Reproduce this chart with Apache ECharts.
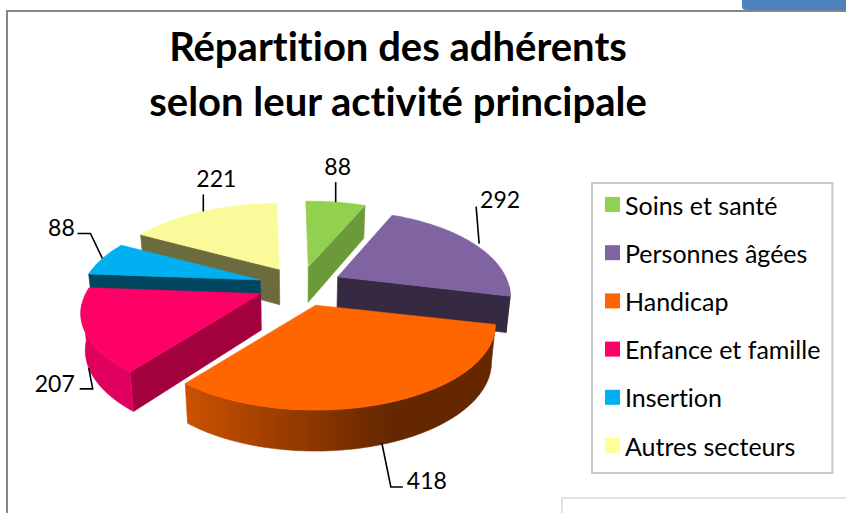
<!DOCTYPE html>
<html>
<head>
<meta charset="utf-8">
<style>
  html, body { margin: 0; padding: 0; background: #fff; }
  #myChart { width: 846px; height: 513px; }
  #myChart text { font-variant-ligatures: none; }
</style>
<script src="https://cdn.jsdelivr.net/npm/echarts@6/dist/echarts.min.js"></script>
</head>
<body>
<div id="myChart"></div>
<script>
  var categories = ['Soins et santé', 'Personnes âgées', 'Handicap', 'Enfance et famille', 'Insertion', 'Autres secteurs'];
  var values = [88, 292, 418, 207, 88, 221];

  // couleurs du dessus, de la coupe et du bord arrondi (gauche, droite)
  var topColors = ['#92d050', '#8064a2', '#ff6600', '#ff0066', '#00b0f0', '#fbfa9a'];
  var legendColors = ['#92d050', '#8064a2', '#ff6600', '#ff0066', '#00b0f0', '#ffff99'];
  var cutColors = ['#6b9a3a', '#352a42', '#652700', '#a3003e', '#00465f', '#6b6b3d'];
  var rimColors = [['#6b9a3a', '#6b9a3a'], ['#352a42', '#352a42'], ['#c95000', '#652700'], ['#e2005f', '#c80050'], ['#00465f', '#00465f'], ['#6b6b3d', '#6b6b3d']];

  // projection de la "3D"
  var CX = 300.5, CY = 285.5, RX = 175, RY = 81, PERSP = 0.228, EXPLODE = 0.244, ROT = -1 * Math.PI / 180;
  // la part du fond a droite parait un peu plus etroite
  var widthScale = [1, 0.96, 1, 1, 1, 1];

  // traits de rappel : decalage du depart, points relatifs au bord, decalage du texte
  var leaders = [
    { from: 0, pts: [[0, -20]], text: [2, -16] },
    { from: 0, pts: [[-3, -37]], text: [24, -8] },
    { from: -7, pts: [[9, 44], [21, 44]], text: [24, -7] },
    { from: 0, pts: [[4, 21], [-9, 21]], text: [-25, -6] },
    { from: 0, pts: [[-12, -25], [-25, -25]], text: [-16, -7] },
    { from: 0, pts: [[0, -17]], text: [13, -16] }
  ];

  var total = values.reduce(function (a, b) { return a + b; }, 0);
  var starts = [];
  values.reduce(function (acc, v, i) { starts[i] = acc; return acc + v; }, 0);

  function angle(v) { return v / total * Math.PI * 2 + ROT; }

  function proj(t, scale) {
    var p = 1 / (1 + PERSP * scale * Math.cos(t));
    return [RX * scale * Math.sin(t) * p, -RY * scale * Math.cos(t) * p];
  }

  function lower(pt) {
    return [CX + (pt[0] - CX) * 0.98, pt[1] + 36 + (pt[1] - CY) * 0.04];
  }

  function arcPoints(apex, a0, a1, sx) {
    var pts = [], n = Math.max(2, Math.ceil((a1 - a0) / 0.02));
    for (var i = 0; i <= n; i++) {
      var q = proj(a0 + (a1 - a0) * i / n, 1);
      pts.push([apex[0] + q[0] * sx, apex[1] + q[1]]);
    }
    return pts;
  }

  function poly(points, fill, stroke) {
    return { type: 'polygon', shape: { points: points }, style: { fill: fill, stroke: stroke || fill, lineWidth: 0.6 } };
  }

  // la coupe n'est visible que si le dessus de la part passe au-dessus de l'arete
  function cutVisible(apex, p, q) {
    var dx = p[0] - apex[0];
    if (Math.abs(dx) < 4) return false;
    return q[1] < apex[1] + (p[1] - apex[1]) * (q[0] - apex[0]) / dx;
  }

  function renderSlice(i, api) {
    var a0 = angle(starts[i]), a1 = angle(starts[i] + api.value(0)), mid = (a0 + a1) / 2;
    var sx = widthScale[i];
    var off = proj(mid, EXPLODE);
    var apex = [CX + off[0], CY + off[1]];
    var arc = arcPoints(apex, a0, a1, sx);
    var pStart = arc[0], pEnd = arc[arc.length - 1], q = arc[Math.floor(arc.length / 2)];
    var children = [];

    [pStart, pEnd].forEach(function (p) {
      if (cutVisible(apex, p, q)) {
        children.push(poly([apex, p, lower(p), lower(apex)], cutColors[i]));
      }
    });

    var r0 = Math.max(a0, 97 * Math.PI / 180), r1 = Math.min(a1, 263 * Math.PI / 180);
    if (r1 > r0) {
      var rimTop = arcPoints(apex, r0, r1, sx);
      var rimFill = new echarts.graphic.LinearGradient(190, 0, 390, 0, [
        { offset: 0, color: rimColors[i][0] },
        { offset: 1, color: rimColors[i][1] }
      ], true);
      children.push(poly(rimTop.concat(rimTop.map(lower).reverse()), rimFill));
    }

    children.push(poly([apex].concat(arc), topColors[i]));

    // trait de rappel et valeur
    var m = proj(mid, 1);
    var edge = [apex[0] + m[0] + leaders[i].from, apex[1] + m[1]];
    if (Math.cos(mid) < 0) edge = lower(edge);
    var line = [edge].concat(leaders[i].pts.map(function (d) { return [edge[0] + d[0], edge[1] + d[1]]; }));
    var end = line[line.length - 1];
    children.push({ type: 'polyline', shape: { points: line }, style: { fill: null, stroke: '#000', lineWidth: 1.6 } });
    children.push({
      type: 'text',
      x: end[0] + leaders[i].text[0],
      y: end[1] + leaders[i].text[1],
      style: { text: String(api.value(0)), fill: '#000', font: '23px Lato', align: 'center', verticalAlign: 'middle' }
    });
    return { type: 'group', children: children };
  }

  // ordre de dessin : du fond vers l'avant
  function depthRank(i) {
    var mid = angle(starts[i] + values[i] / 2), c = Math.cos(mid);
    return values.filter(function (v, j) { return Math.cos(angle(starts[j] + v / 2)) > c; }).length;
  }

  var myChart = echarts.init(document.getElementById('myChart'), null, { renderer: 'svg' });

  var option = {
    animation: false,
    backgroundColor: '#fff',
    title: {
      text: 'Répartition des adhérents\nselon leur activité principale',
      left: 393,
      top: 13,
      textAlign: 'center',
      textStyle: { fontFamily: 'Lato', fontWeight: 'bold', fontSize: 40, lineHeight: 55, color: '#000' }
    },
    legend: {
      orient: 'vertical',
      left: 592,
      top: 183,
      padding: [9, 12, 15, 13],
      itemWidth: 15,
      itemHeight: 15,
      itemGap: 23.2,
      icon: 'rect',
      borderColor: '#c8c8c8',
      borderWidth: 2,
      backgroundColor: '#fff',
      selectedMode: false,
      data: categories,
      textStyle: { fontFamily: 'Lato', fontSize: 25, lineHeight: 24, color: '#000' }
    },
    graphic: [
      { type: 'rect', shape: { x: 742, y: -6, width: 120, height: 16, r: 4 }, style: { fill: '#4f81bd' }, silent: true },
      { type: 'polyline', shape: { points: [[7, 513], [7, 11], [846, 11]] }, style: { fill: null, stroke: '#868686', lineWidth: 2 }, silent: true },
      { type: 'polyline', shape: { points: [[562, 513], [562, 498], [846, 498]] }, style: { fill: null, stroke: '#e2e2e2', lineWidth: 2 }, silent: true }
    ],
    series: categories.map(function (name, i) {
      return {
        type: 'custom',
        name: name,
        coordinateSystem: 'none',
        z: 2 + depthRank(i),
        itemStyle: { color: legendColors[i] },
        data: [[values[i]]],
        renderItem: function (params, api) { return renderSlice(i, api); }
      };
    })
  };
  myChart.setOption(option);
</script>
</body>
</html>
